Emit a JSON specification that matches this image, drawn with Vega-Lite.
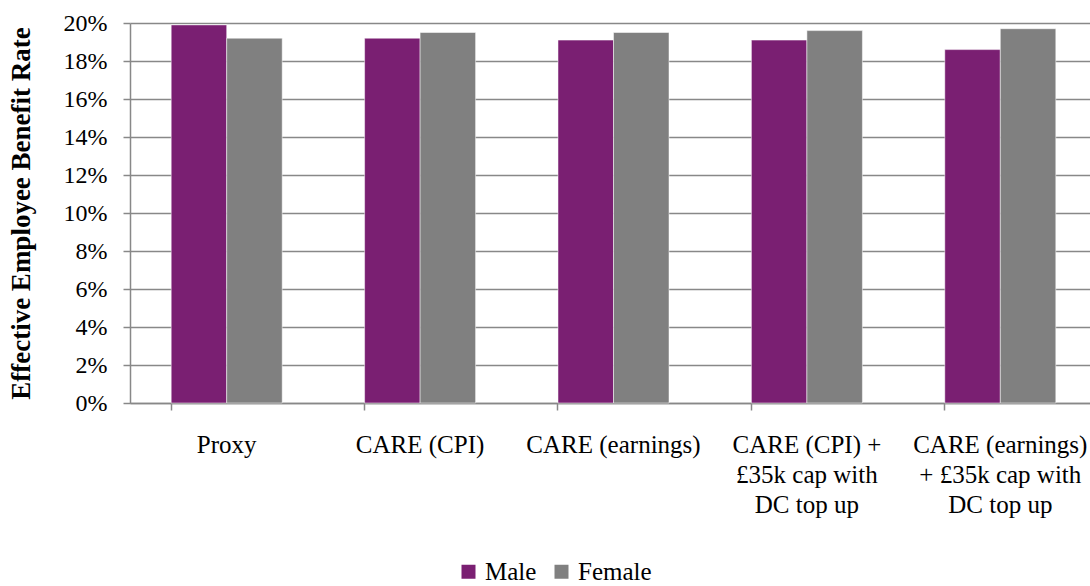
{
  "$schema": "https://vega.github.io/schema/vega-lite/v6.json",
  "autosize": "none",
  "width": 967,
  "height": 380,
  "padding": {"left": 130, "top": 23, "right": 0, "bottom": 183},
  "config": {
    "view": {"stroke": null},
    "font": "'Liberation Serif', 'Times New Roman', serif"
  },
  "data": {
    "values": [
      {"scheme": "Proxy", "gender": "Male", "rate": 0.199},
      {"scheme": "Proxy", "gender": "Female", "rate": 0.192},
      {"scheme": "CARE (CPI)", "gender": "Male", "rate": 0.192},
      {"scheme": "CARE (CPI)", "gender": "Female", "rate": 0.195},
      {"scheme": "CARE (earnings)", "gender": "Male", "rate": 0.191},
      {"scheme": "CARE (earnings)", "gender": "Female", "rate": 0.195},
      {"scheme": "CARE (CPI) +|£35k cap with|DC top up", "gender": "Male", "rate": 0.191},
      {"scheme": "CARE (CPI) +|£35k cap with|DC top up", "gender": "Female", "rate": 0.196},
      {"scheme": "CARE (earnings)|+ £35k cap with|DC top up", "gender": "Male", "rate": 0.186},
      {"scheme": "CARE (earnings)|+ £35k cap with|DC top up", "gender": "Female", "rate": 0.197}
    ]
  },
  "mark": {"type": "bar", "stroke": "#ffffff", "strokeWidth": 0.5},
  "encoding": {
    "x": {
      "field": "scheme",
      "type": "nominal",
      "sort": null,
      "scale": {"paddingInner": 0.426, "paddingOuter": 0.213},
      "axis": {
        "title": null,
        "labelAngle": 0,
        "labelExpr": "split(datum.label, '|')",
        "labelFont": "'Liberation Serif', 'Times New Roman', serif",
        "labelFontSize": 25,
        "labelColor": "#000000",
        "labelLineHeight": 30,
        "labelPadding": 22,
        "labelBaseline": "top",
        "labelLimit": 300,
        "bandPosition": 0,
        "domainColor": "#888888",
        "domainWidth": 1.5,
        "tickColor": "#888888",
        "tickWidth": 1.5,
        "tickSize": 7
      }
    },
    "xOffset": {"field": "gender", "type": "nominal", "sort": ["Male", "Female"]},
    "y": {
      "field": "rate",
      "type": "quantitative",
      "scale": {"domain": [0, 0.2], "nice": false},
      "axis": {
        "title": "Effective Employee Benefit Rate",
        "titleFont": "'Liberation Serif', 'Times New Roman', serif",
        "titleFontSize": 27,
        "titleFontWeight": "bold",
        "titleColor": "#000000",
        "titlePadding": 28,
        "format": ".0%",
        "values": [0, 0.02, 0.04, 0.06, 0.08, 0.1, 0.12, 0.14, 0.16, 0.18, 0.2],
        "labelFont": "'Liberation Serif', 'Times New Roman', serif",
        "labelFontSize": 24,
        "labelColor": "#000000",
        "labelPadding": 16,
        "grid": true,
        "gridColor": "#888888",
        "gridWidth": 1.5,
        "domainColor": "#888888",
        "domainWidth": 1.5,
        "tickColor": "#888888",
        "tickWidth": 1.5,
        "tickSize": 7
      }
    },
    "color": {
      "field": "gender",
      "type": "nominal",
      "sort": ["Male", "Female"],
      "scale": {"domain": ["Male", "Female"], "range": ["#7a1f72", "#808080"]},
      "legend": {
        "title": null,
        "orient": "none",
        "direction": "horizontal",
        "legendX": 326,
        "legendY": 536,
        "symbolType": "square",
        "symbolSize": 196,
        "symbolStrokeWidth": 0,
        "labelFont": "'Liberation Serif', 'Times New Roman', serif",
        "labelFontSize": 25,
        "labelColor": "#000000",
        "labelOffset": 4,
        "columnPadding": 12
      }
    }
  }
}
